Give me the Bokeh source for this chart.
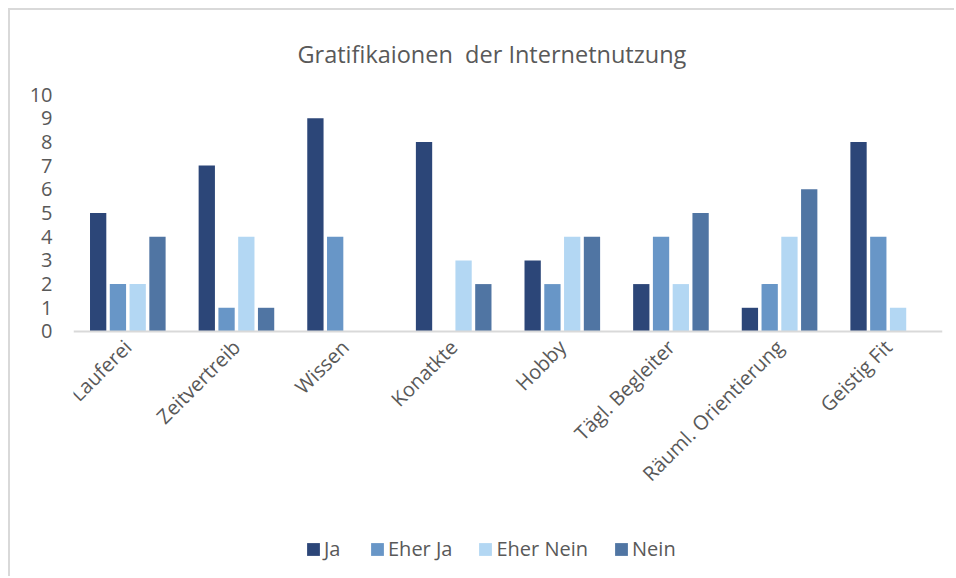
import math
from bokeh.plotting import figure
from bokeh.models import ColumnDataSource, FactorRange, Range1d, Legend, LegendItem
from bokeh.transform import dodge
from bokeh.embed import file_html
from bokeh.resources import INLINE

categories = ["Lauferei", "Zeitvertreib", "Wissen", "Konatkte", "Hobby",
              "Tägl. Begleiter", "Räuml. Orientierung", "Geistig Fit"]
ja = [5, 7, 9, 8, 3, 2, 1, 8]
eher_ja = [2, 1, 4, 0, 2, 4, 2, 4]
eher_nein = [2, 4, 0, 3, 4, 2, 4, 1]
nein = [4, 1, 0, 2, 4, 5, 6, 0]
series_names = ["Ja", "Eher Ja", "Eher Nein", "Nein"]
colors = ["#2c4678", "#6896c7", "#b3d7f3", "#5075a3"]
y_ticks = [0, 1, 2, 3, 4, 5, 6, 7, 8, 9, 10]

FONT = "Open Sans"
TXT = "#595959"

source = ColumnDataSource(data=dict(cat=categories, ja=ja, eher_ja=eher_ja,
                                    eher_nein=eher_nein, nein=nein))

# the frame reaches down to the bottom of the figure so that the legend
# (drawn inside the frame) can sit under the rotated category labels
px_per_unit = 23.6
y_bottom = -(576 - 330) / px_per_unit

p = figure(x_range=FactorRange(factors=categories), y_range=Range1d(y_bottom, 10),
           width=946, height=568, output_backend="svg", toolbar_location=None,
           title="Gratifikaionen\u00a0 der Internetnutzung",
           min_border_left=63, min_border_right=14, min_border_top=84,
           min_border_bottom=0)

p.styles = {"margin-left": "8px", "margin-top": "8px",
            "border-top": "2px solid #d9d9d9", "border-left": "2px solid #d9d9d9"}

p.title.align = "left"
p.title.offset = 224
p.title.text_font = FONT
p.title.text_font_size = "23.5px"
p.title.text_font_style = "normal"
p.title.text_color = TXT
p.title.standoff = 49

offsets = [-0.273, -0.091, 0.091, 0.273]
fields = ["ja", "eher_ja", "eher_nein", "nein"]
renderers = []
for f, off, c in zip(fields, offsets, colors):
    r = p.vbar(x=dodge("cat", off, range=p.x_range), top=f, width=0.15,
               source=source, fill_color=c, line_color=None)
    renderers.append(r)

p.outline_line_color = None
p.xgrid.grid_line_color = None
p.ygrid.grid_line_color = None

p.yaxis.ticker = y_ticks
p.yaxis.axis_line_color = None
p.yaxis.major_tick_line_color = None
p.yaxis.minor_tick_line_color = None
p.yaxis.major_tick_out = 0
p.yaxis.major_tick_in = 0
p.yaxis.major_label_text_font = FONT
p.yaxis.major_label_text_font_size = "20px"
p.yaxis.major_label_text_color = TXT
p.yaxis.major_label_standoff = 21

p.xaxis.fixed_location = 0
p.xaxis.axis_line_color = "#d9d9d9"
p.xaxis.axis_line_width = 2
p.xaxis.major_tick_line_color = None
p.xaxis.minor_tick_line_color = None
p.xaxis.major_tick_out = 0
p.xaxis.major_tick_in = 0
p.xaxis.major_label_orientation = math.pi / 4
p.xaxis.major_label_text_font = FONT
p.xaxis.major_label_text_font_size = "20px"
p.xaxis.major_label_text_color = TXT
p.xaxis.major_label_standoff = 12

legend = Legend(items=[LegendItem(label=n, renderers=[r]) for n, r in zip(series_names, renderers)],
                orientation="horizontal", location=(232, 16),
                label_text_font=FONT, label_text_font_size="20px",
                label_text_color=TXT, glyph_width=16, glyph_height=16,
                label_standoff=3, spacing=25, border_line_color=None,
                background_fill_alpha=0, margin=0, padding=0)
p.add_layout(legend, "center")

open("out.html", "w").write(file_html(p, INLINE))
